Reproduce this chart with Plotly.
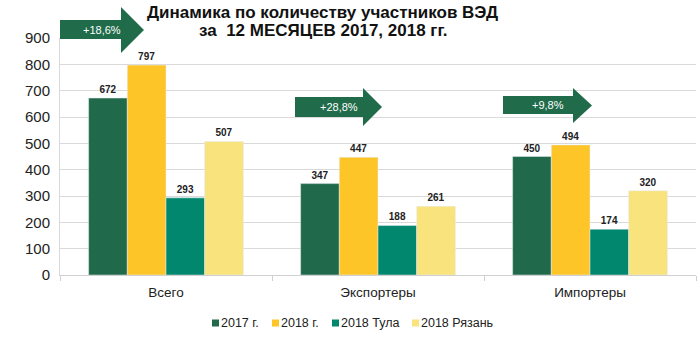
import plotly.graph_objects as go

categories = ["Всего", "Экспортеры", "Импортеры"]
series_names = ["2017 г.", "2018 г.", "2018 Тула", "2018 Рязань"]
v2017 = [672, 347, 450]
v2018 = [797, 447, 494]
v_tula = [293, 188, 174]
v_ryazan = [507, 261, 320]
growth_labels = ["+18,6%", "+28,8%", "+9,8%"]
y_ticks = [0, 100, 200, 300, 400, 500, 600, 700, 800, 900]

colors = ["#20694A", "#FDC527", "#00876D", "#F8E37C"]
W, H = 700, 337
L, R, T, B = 60, 4, 38, 62
pw, ph = W - L - R, H - T - B

def px(x):
    return (x - L) / pw

def py(y):
    return (H - B - y) / ph

fig = go.Figure()
for name, vals, c in zip(series_names, [v2017, v2018, v_tula, v_ryazan], colors):
    fig.add_trace(go.Bar(
        x=categories, y=vals, name=name, marker_color=c,
        text=vals, textposition="outside", cliponaxis=False,
        textfont=dict(family="Liberation Sans", size=10, color="#222222", weight="bold"),
        showlegend=False,
    ))

# arrows: (body_left, head_base, tip, body_top, body_bottom, head_top, head_bottom) in px
arrows = [
    (60, 121, 144, 20, 39, 7, 53),
    (295, 363, 382, 97, 117, 88, 126),
    (503, 573, 592, 96, 114, 88, 123),
]
for (x0, xb, xt, bt, bb, ht, hb), lab in zip(arrows, growth_labels):
    yc = (ht + hb) / 2
    pts = [(x0, bt), (xb, bt), (xb, ht), (xt, yc), (xb, hb), (xb, bb), (x0, bb)]
    path = "M " + " L ".join(f"{px(a):.5f},{py(b):.5f}" for a, b in pts) + " Z"
    fig.add_shape(type="path", path=path, xref="paper", yref="paper",
                  fillcolor="#1F6B4A", line=dict(width=0), layer="above")
    fig.add_annotation(x=px((x0 + xt) / 2), y=py((bt + bb) / 2), xref="paper", yref="paper",
                       xanchor="center", yanchor="middle",
                       text=lab, showarrow=False,
                       font=dict(family="Liberation Sans", size=11, color="white"))

fig.add_annotation(x=px(322), y=py(12), xref="paper", yref="paper", showarrow=False,
                   xanchor="center", yanchor="middle",
                   text="<b>Динамика по количеству участников ВЭД</b>",
                   font=dict(family="Liberation Sans", size=17, color="#111111"))
fig.add_annotation(x=px(323), y=py(30.5), xref="paper", yref="paper", showarrow=False,
                   xanchor="center", yanchor="middle",
                   text="<b>за\u00a0 12 МЕСЯЦЕВ 2017, 2018 гг.</b>",
                   font=dict(family="Liberation Sans", size=17, color="#111111"))

# legend (custom, compact like the original)
legend_x = [212, 272, 332, 412]
leg_y = 323
for lx, name, c in zip(legend_x, series_names, colors):
    fig.add_shape(type="rect", xref="paper", yref="paper",
                  x0=px(lx), x1=px(lx + 7), y0=py(leg_y + 3.5), y1=py(leg_y - 3.5),
                  fillcolor=c, line=dict(width=0))
    fig.add_annotation(x=px(lx + 7), y=py(leg_y), xref="paper", yref="paper",
                       xanchor="left", yanchor="middle", showarrow=False, text=name,
                       font=dict(family="Liberation Sans", size=12.5, color="#222222"))

fig.update_layout(
    width=W, height=H,
    margin=dict(l=L, r=R, t=T, b=B),
    plot_bgcolor="white", paper_bgcolor="white",
    barmode="group", bargap=0.27, bargroupgap=0,
    font=dict(family="Liberation Sans", color="#222222"),
    showlegend=False,
)
fig.update_yaxes(range=[0, 900], tickvals=y_ticks, showgrid=True, gridcolor="#D9D9D9",
                 gridwidth=1, showline=True, linecolor="#D9D9D9", zeroline=False,
                 tickfont=dict(size=15, color="#222222"), ticks="", ticklabelstandoff=6)
fig.update_xaxes(showline=True, linecolor="#D0D0D0", ticks="outside", tickson="boundaries",
                 ticklen=5, tickcolor="#D0D0D0", tickfont=dict(size=13.5, color="#222222"),
                 ticklabelstandoff=5)

fig.write_html("out.html")
